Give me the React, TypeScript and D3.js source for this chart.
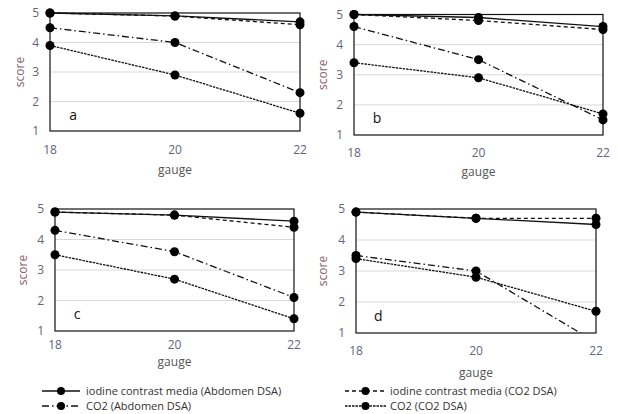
import React from "react";
import * as d3 from "d3";

const gauges = [18, 20, 22];
const yTicks = [1, 2, 3, 4, 5];
const panelLetters = ["a", "b", "c", "d"];
const seriesNames = [
  "iodine contrast media (Abdomen DSA)",
  "iodine contrast media (CO2 DSA)",
  "CO2 (Abdomen DSA)",
  "CO2 (CO2 DSA)",
];
// values per panel, series in order above
const panelA = [
  [5.0, 4.9, 4.7],
  [5.0, 4.9, 4.6],
  [4.5, 4.0, 2.3],
  [3.9, 2.9, 1.6],
];
const panelB = [
  [5.0, 4.9, 4.6],
  [5.0, 4.8, 4.5],
  [4.6, 3.5, 1.5],
  [3.4, 2.9, 1.7],
];
const panelC = [
  [4.9, 4.8, 4.6],
  [4.9, 4.8, 4.4],
  [4.3, 3.6, 2.1],
  [3.5, 2.7, 1.4],
];
const panelD = [
  [4.9, 4.7, 4.5],
  [4.9, 4.7, 4.7],
  [3.5, 3.0, 0.7],
  [3.4, 2.8, 1.7],
];
const panelData = [panelA, panelB, panelC, panelD];

const dashes = ["none", "4,3", "7,3,1.5,3", "2.5,1"];

const layouts = [
  { left: 50, right: 300, top: 13, bottom: 131, xLab: 150, gauge: 170, scoreX: 20 },
  { left: 354, right: 603, top: 14.5, bottom: 135, xLab: 153, gauge: 172, scoreX: 323 },
  { left: 55, right: 294, top: 209, bottom: 331, xLab: 345, gauge: 362, scoreX: 23 },
  { left: 356, right: 596, top: 209, bottom: 333, xLab: 351, gauge: 373, scoreX: 323 },
];

const FONT = "'Open Sans', sans-serif";
const TICK = "#5f6680";
const SCORE = "#8c6070";

function Panel({ idx }: { idx: number }) {
  const L = layouts[idx];
  const data = panelData[idx];
  const x = d3.scaleLinear().domain([18, 22]).range([L.left, L.right]);
  const y = d3.scaleLinear().domain([1, 5]).range([L.bottom, L.top]);
  const line = d3
    .line<number>()
    .x((_, i) => x(gauges[i]))
    .y((v) => y(v));
  const clipId = `clip${idx}`;
  return (
    <g>
      <defs>
        <clipPath id={clipId}>
          <rect x={L.left - 6} y={L.top - 6} width={L.right - L.left + 12} height={L.bottom - L.top + 6} />
        </clipPath>
      </defs>
      {yTicks.slice(1, 4).map((t) => (
        <line key={t} x1={L.left} x2={L.right} y1={y(t)} y2={y(t)} stroke="#d9d9d9" strokeWidth={1} />
      ))}
      <rect x={L.left} y={L.top} width={L.right - L.left} height={L.bottom - L.top} fill="none" stroke="#111" strokeWidth={1.2} />
      {yTicks.map((t) => (
        <text key={t} x={L.left - 11} y={y(t)} dy="0.35em" textAnchor="end" fontSize={12} fill={TICK} fontFamily={FONT}>
          {t}
        </text>
      ))}
      {gauges.map((g) => (
        <text key={g} x={x(g)} y={L.xLab} dy="0.35em" textAnchor="middle" fontSize={12} fill={TICK} fontFamily={FONT}>
          {g}
        </text>
      ))}
      <text x={(L.left + L.right) / 2} y={L.gauge} dy="0.35em" textAnchor="middle" fontSize={12} fill="#555" fontFamily={FONT}>
        gauge
      </text>
      <text
        transform={`translate(${L.scoreX},${(L.top + L.bottom) / 2}) rotate(-90)`}
        dy="0.35em"
        textAnchor="middle"
        fontSize={12}
        fill={SCORE}
        fontFamily={FONT}
      >
        score
      </text>
      <text x={x(18.37)} y={y(1.55)} dy="0.35em" textAnchor="middle" fontSize={14} fill="#111" fontFamily={FONT}>
        {panelLetters[idx]}
      </text>
      <g clipPath={`url(#${clipId})`}>
        {data.map((vals, s) => (
          <path key={s} d={line(vals) || ""} fill="none" stroke="#111" strokeWidth={1.3} strokeDasharray={dashes[s]} />
        ))}
        {data.map((vals, s) =>
          vals.map((v, i) => <circle key={`${s}-${i}`} cx={x(gauges[i])} cy={y(v)} r={4.5} fill="#000" />)
        )}
      </g>
    </g>
  );
}

function Legend() {
  const items = [
    { s: 0, x0: 42, x1: 80, tx: 86, y: 391 },
    { s: 1, x0: 345, x1: 386, tx: 390, y: 391 },
    { s: 2, x0: 42, x1: 80, tx: 86, y: 406 },
    { s: 3, x0: 345, x1: 386, tx: 390, y: 406 },
  ];
  return (
    <g>
      {items.map((it) => (
        <g key={it.s}>
          <line x1={it.x0} x2={it.x1} y1={it.y} y2={it.y} stroke="#111" strokeWidth={1.3} strokeDasharray={dashes[it.s]} />
          <circle cx={(it.x0 + it.x1) / 2} cy={it.y} r={4} fill="#000" />
          <text x={it.tx} y={it.y} dy="0.35em" fontSize={11} fill="#333" fontFamily={FONT}>
            {seriesNames[it.s]}
          </text>
        </g>
      ))}
    </g>
  );
}

export default function App() {
  return (
    <svg width={618} height={414} style={{ position: "absolute", left: 0, top: 0, background: "#fff" }}>
      <rect width={618} height={414} fill="#fff" />
      {[0, 1, 2, 3].map((i) => (
        <Panel key={i} idx={i} />
      ))}
      <Legend />
    </svg>
  );
}
